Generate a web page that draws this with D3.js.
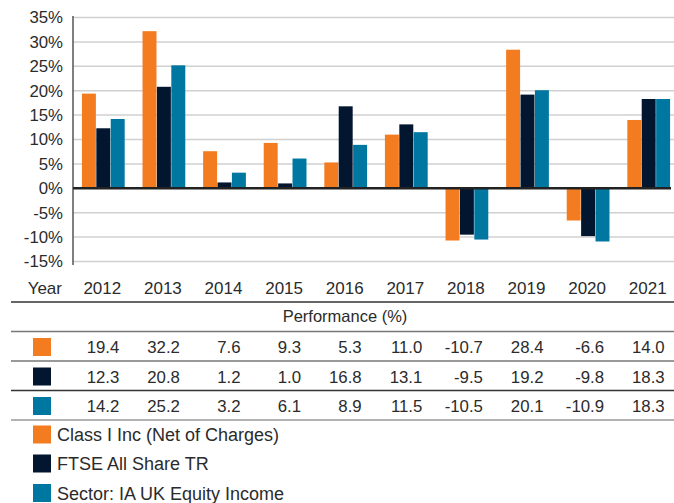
<!DOCTYPE html>
<html>
<head>
<meta charset="utf-8">
<script src="https://cdn.jsdelivr.net/npm/d3@7"></script>
<style>
  body { margin: 0; background: #fff; }
  svg text { font-family: "Liberation Sans", Arial, sans-serif; fill: #2b2b2b; }
</style>
</head>
<body>
<div id="chart"></div>
<script>
const years = ["2012", "2013", "2014", "2015", "2016", "2017", "2018", "2019", "2020", "2021"];
const seriesNames = ["Class I Inc (Net of Charges)", "FTSE All Share TR", "Sector: IA UK Equity Income"];
const classI = [19.4, 32.2, 7.6, 9.3, 5.3, 11.0, -10.7, 28.4, -6.6, 14.0];
const ftse = [12.3, 20.8, 1.2, 1.0, 16.8, 13.1, -9.5, 19.2, -9.8, 18.3];
const sector = [14.2, 25.2, 3.2, 6.1, 8.9, 11.5, -10.5, 20.1, -10.9, 18.3];
const yTicks = [35, 30, 25, 20, 15, 10, 5, 0, -5, -10, -15];
const colors = ["#f47c20", "#02172f", "#0077a0"];

const series = [classI, ftse, sector];
const width = 674, height = 503;

const svg = d3.select("#chart").append("svg")
  .attr("width", width).attr("height", height);

const x = d3.scaleBand().domain(years).range([73, 679])
  .paddingInner(0.28).paddingOuter(0.14);
const xs = d3.scaleBand().domain([0, 1, 2]).range([0, x.bandwidth()]).padding(0.03);
const y = d3.scaleLinear().domain([-15, 35]).range([261.5, 17.5]);

// gridlines
svg.append("g").selectAll("line")
  .data(yTicks.filter(d => d !== 0))
  .enter().append("line")
  .attr("x1", 73).attr("x2", 674)
  .attr("y1", d => y(d)).attr("y2", d => y(d))
  .attr("stroke", "#d0d0d0").attr("stroke-width", 1.5);

// y axis
const yAxis = d3.axisLeft(y).tickValues(yTicks).tickSize(0).tickPadding(10)
  .tickFormat(d => d + "%");
const ya = svg.append("g").attr("transform", "translate(73,0)").call(yAxis);
ya.select(".domain").remove();
ya.selectAll("text").style("font-size", "16.8px").attr("fill", "#2b2b2b");
svg.append("line").attr("x1", 73).attr("x2", 73).attr("y1", 16).attr("y2", 265)
  .attr("stroke", "#555").attr("stroke-width", 1.5);

// bars
series.forEach((vals, i) => {
  svg.append("g").selectAll("rect")
    .data(vals)
    .enter().append("rect")
    .attr("x", (d, j) => x(years[j]) + xs(i))
    .attr("width", xs.bandwidth())
    .attr("y", d => y(Math.max(0, d)))
    .attr("height", d => Math.abs(y(d) - y(0)))
    .attr("fill", colors[i]);
});

// zero line
svg.append("line").attr("x1", 73).attr("x2", 671)
  .attr("y1", y(0)).attr("y2", y(0))
  .attr("stroke", "#222").attr("stroke-width", 2.5);

// year row
svg.append("text").attr("x", 62).attr("y", 294).attr("text-anchor", "end")
  .style("font-size", "17px").text("Year");
svg.append("g").selectAll("text")
  .data(years).enter().append("text")
  .attr("x", d => x(d) + x.bandwidth() / 2 - 1)
  .attr("y", 294).attr("text-anchor", "middle")
  .style("font-size", "17px").text(d => d);

// table
const tableLines = [
  { y: 302, c: "#333" }, { y: 331.5, c: "#777" }, { y: 361, c: "#777" },
  { y: 390.5, c: "#333" }, { y: 420, c: "#999" }
];
svg.append("g").selectAll("line")
  .data(tableLines).enter().append("line")
  .attr("x1", 11).attr("x2", 674)
  .attr("y1", d => d.y).attr("y2", d => d.y)
  .attr("stroke", d => d.c).attr("stroke-width", 1.5);

svg.append("text").attr("x", 345).attr("y", 322).attr("text-anchor", "middle")
  .style("font-size", "16.5px").text("Performance (%)");

const rowY = [347, 376.5, 406];
series.forEach((vals, i) => {
  svg.append("rect").attr("x", 33).attr("y", rowY[i] - 9).attr("width", 18).attr("height", 18)
    .attr("fill", colors[i]);
  svg.append("g").selectAll("text")
    .data(vals).enter().append("text")
    .attr("x", (d, j) => x(years[j]) + x.bandwidth() / 2 + 16)
    .attr("y", rowY[i] + 6).attr("text-anchor", "end")
    .style("font-size", "16.8px").text(d => d.toFixed(1));
});

// legend
const legY = [434.5, 463.5, 493];
seriesNames.forEach((name, i) => {
  svg.append("rect").attr("x", 33).attr("y", legY[i] - 9).attr("width", 18).attr("height", 18)
    .attr("fill", colors[i]);
  svg.append("text").attr("x", 57).attr("y", legY[i] + 6.5)
    .style("font-size", "18px").text(name);
});
</script>
</body>
</html>
